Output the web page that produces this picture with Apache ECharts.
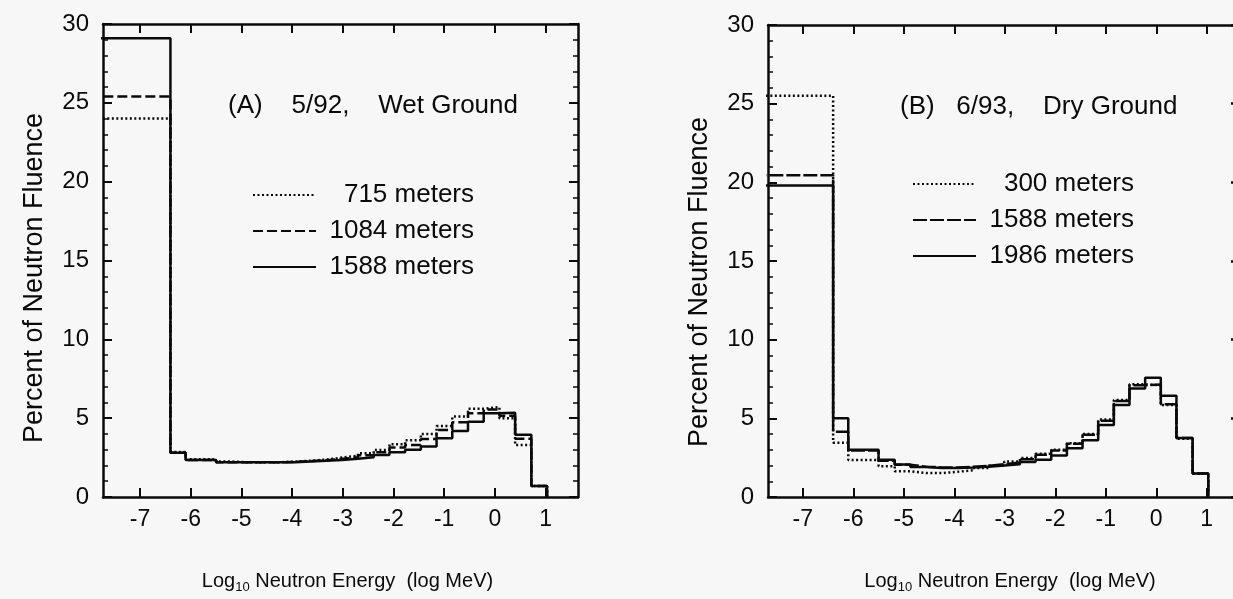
<!DOCTYPE html>
<html><head><meta charset="utf-8">
<script src="https://cdn.jsdelivr.net/npm/echarts@6/dist/echarts.min.js"></script>
<style>html,body{margin:0;padding:0;background:#f7f7f7}#c{width:1233px;height:599px}</style>
</head><body><div id="c"></div>
<script>
// log10 energy bin edges (MeV)
const binEdges = [-8.0, -6.40, -6.10, -5.50, -5.18, -4.87, -4.56, -4.25, -3.94, -3.63, -3.32, -3.01, -2.70, -2.39, -2.08, -1.77, -1.46, -1.15, -0.84, -0.53, -0.22, 0.09, 0.40, 0.72, 1.03];
const xTickValues = [-7, -6, -5, -4, -3, -2, -1, 0, 1];

// Panel A: 5/92, Wet Ground
const a715  = [24.0, 2.85, 2.4, 2.25, 2.2, 2.2, 2.2, 2.25, 2.3, 2.38, 2.5, 2.62, 2.78, 2.98, 3.35, 3.6, 4.0, 4.5, 5.1, 5.6, 5.7, 5.0, 3.3, 0.7];
const a1084 = [25.4, 2.8, 2.35, 2.2, 2.2, 2.2, 2.2, 2.22, 2.28, 2.33, 2.42, 2.52, 2.65, 2.84, 3.14, 3.3, 3.68, 4.25, 4.74, 5.31, 5.55, 5.15, 3.7, 0.7];
const a1588 = [29.1, 2.8, 2.35, 2.2, 2.2, 2.2, 2.2, 2.2, 2.25, 2.3, 2.35, 2.42, 2.52, 2.67, 2.84, 2.99, 3.2, 3.73, 4.19, 4.78, 5.31, 5.35, 3.95, 0.7];

// Panel B: 6/93, Dry Ground
const b300  = [25.5, 3.45, 2.35, 1.95, 1.64, 1.53, 1.52, 1.6, 1.7, 1.85, 2.0, 2.25, 2.48, 2.75, 3.0, 3.42, 4.0, 4.93, 6.16, 7.16, 7.1, 5.84, 3.7, 1.5];
const b1588 = [20.45, 4.15, 2.95, 2.3, 2.05, 1.93, 1.88, 1.88, 1.92, 1.98, 2.08, 2.2, 2.4, 2.68, 2.95, 3.38, 3.95, 4.85, 6.1, 7.1, 7.15, 5.9, 3.75, 1.5];
const b1986 = [19.8, 5.0, 3.0, 2.37, 2.06, 1.91, 1.85, 1.85, 1.88, 1.92, 2.0, 2.08, 2.22, 2.37, 2.63, 3.1, 3.6, 4.58, 5.84, 6.89, 7.58, 6.43, 3.75, 1.5];

const legendA = {A715: '715 meters', A1084: '1084 meters', A1588: '1588 meters'};
const legendB = {B300: '300 meters', B1588: '1588 meters', B1986: '1986 meters'};
const yTitle = 'Percent of Neutron Fluence';

function stepPoints(edges, vals) {
  const pts = [];
  for (let i = 0; i < vals.length; i++) {
    pts.push([edges[i], vals[i]]);
    pts.push([edges[i + 1], vals[i]]);
  }
  pts.push([edges[edges.length - 1], 0]);
  return pts;
}

const FONT = 'Liberation Sans, Arial, sans-serif';
const BLACK = '#0a0a0a';

function xAxes(gridIndex, xmin, xmax, namePad) {
  const common = {
    type: 'value', gridIndex, min: xmin, max: xmax,
    axisLine: {show: true, onZero: false, lineStyle: {color: BLACK, width: 2.5}},
    axisTick: {show: true, inside: true, length: 9, customValues: xTickValues, lineStyle: {color: BLACK, width: 2}},
    splitLine: {show: false}
  };
  return [
    Object.assign({}, common, {
      position: 'bottom',
      axisLabel: {show: true, customValues: xTickValues, color: BLACK, fontSize: 23, fontFamily: FONT, margin: 11},
      name: '{a|Log}{s|10}{a| Neutron Energy  (log MeV)}',
      nameLocation: 'middle', nameGap: 72,
      nameTextStyle: {padding: [0, 0, 0, namePad], rich: {
        a: {fontSize: 20, fontFamily: FONT, color: BLACK},
        s: {fontSize: 13, fontFamily: FONT, color: BLACK, padding: [12, 0, 0, 0]}
      }}
    }),
    Object.assign({}, common, {position: 'top', axisLabel: {show: false}})
  ];
}
function yAxes(gridIndex, rightFrame) {
  const common = {
    type: 'value', gridIndex, min: 0, max: 30, interval: 5,
    axisLine: {show: true, onZero: false, lineStyle: {color: BLACK, width: 2.5}},
    axisTick: {show: true, inside: true, length: 9, lineStyle: {color: BLACK, width: 2}},
    minorTick: {show: true, splitNumber: 5, length: 5, lineStyle: {color: BLACK, width: 1.5}},
    splitLine: {show: false}
  };
  const right = Object.assign({}, common, {position: 'right', axisLabel: {show: false}});
  if (!rightFrame) {
    right.axisLine = {show: false, onZero: false};
    right.axisTick = {show: true, inside: true, length: 2, lineStyle: {color: BLACK, width: 2.5}};
    right.minorTick = {show: false};
  }
  return [
    Object.assign({}, common, {
      position: 'left',
      axisLabel: {show: true, color: BLACK, fontSize: 24, fontFamily: FONT, margin: 14}
    }),
    right
  ];
}

function histSeries(name, vals, xi, yi, dash) {
  return {
    name, type: 'line', xAxisIndex: xi, yAxisIndex: yi,
    data: stepPoints(binEdges, vals),
    showSymbol: false, symbol: 'none', clip: true, animation: false,
    lineStyle: {color: BLACK, width: 2.5, type: dash},
    itemStyle: {color: BLACK}
  };
}

const DOT = [2, 2.5], DASH = [10, 4], LDASH = [14, 3];

function legendOpt(names, labels, left, top) {
  return {
    data: names, orient: 'vertical', left, top,
    itemWidth: 63, itemHeight: 14, itemGap: 10, selectedMode: false,
    itemStyle: {opacity: 0},
    formatter: n => '{t|' + labels[n] + '}',
    textStyle: {rich: {t: {fontSize: 26, fontFamily: FONT, color: BLACK, width: 145, align: 'right', lineHeight: 26, padding: [0, 0, 0, 8]}}}
  };
}

const option = {
  backgroundColor: '#f7f7f7',
  animation: false,
  grid: [
    {left: 103, top: 24, width: 475, height: 475},
    {left: 768, top: 25, width: 465, height: 476}
  ],
  xAxis: [...xAxes(0, -7.73, 1.64, 14), ...xAxes(1, -7.69, 1.52, 19)],
  yAxis: [...yAxes(0, true), ...yAxes(1, false)],
  legend: [
    legendOpt(['A715', 'A1084', 'A1588'], legendA, 247, 177),
    legendOpt(['B300', 'B1588', 'B1986'], legendB, 907, 166)
  ],
  graphic: [
    {type: 'text', left: 228, top: 93, style: {text: '(A)    5/92,    Wet Ground', fontSize: 26, fontFamily: FONT, fill: BLACK}},
    {type: 'text', left: 900, top: 94, style: {text: '(B)   6/93,    Dry Ground', fontSize: 26, fontFamily: FONT, fill: BLACK}},
    {type: 'text', x: 35, y: 278, rotation: Math.PI / 2, style: {text: yTitle, fontSize: 27, fontFamily: FONT, fill: BLACK, align: 'center', verticalAlign: 'middle'}},
    {type: 'text', x: 700, y: 282, rotation: Math.PI / 2, style: {text: yTitle, fontSize: 27, fontFamily: FONT, fill: BLACK, align: 'center', verticalAlign: 'middle'}}
  ],
  series: [
    histSeries('A715', a715, 0, 0, DOT),
    histSeries('A1084', a1084, 0, 0, DASH),
    histSeries('A1588', a1588, 0, 0, 'solid'),
    histSeries('B300', b300, 2, 2, DOT),
    histSeries('B1588', b1588, 2, 2, LDASH),
    histSeries('B1986', b1986, 2, 2, 'solid')
  ]
};
echarts.init(document.getElementById('c'), null, {renderer: 'canvas'}).setOption(option);
</script></body></html>
